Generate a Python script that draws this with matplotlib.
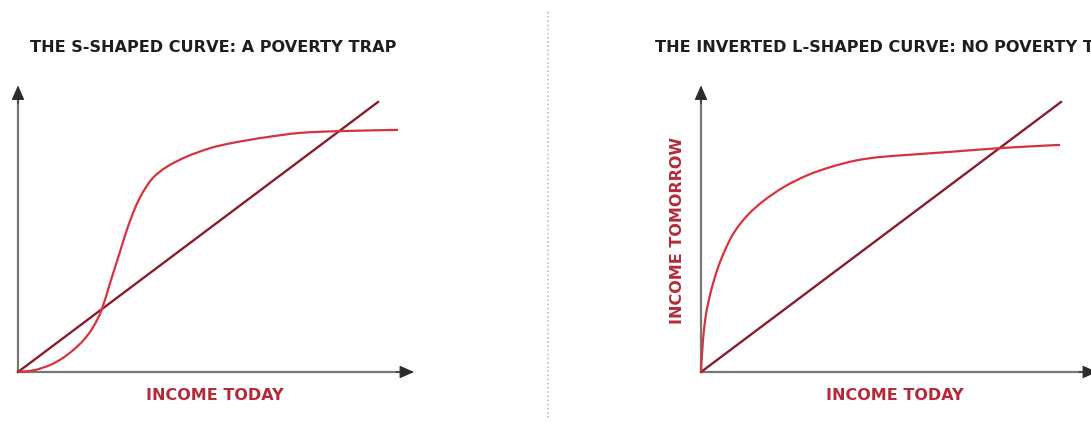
import matplotlib
matplotlib.use("Agg")
import matplotlib.pyplot as plt
import numpy as np
from matplotlib.lines import Line2D
from matplotlib.path import Path
from matplotlib.patches import PathPatch

# ---- data (income today -> income tomorrow) ----
s_x = [0, 0.4, 0.8, 1.1, 1.38, 1.65, 1.88, 2.09, 2.3, 2.51, 2.72, 2.925, 3.13, 3.38,
       3.72, 4.22, 4.8, 5.3, 5.8, 6.225, 7.05, 8.05, 9.5]
s_y = [0, 0.06, 0.23, 0.45, 0.73, 1.08, 1.5, 2.07, 2.96, 3.84, 4.73, 5.46, 6.01, 6.48,
       6.84, 7.18, 7.46, 7.62, 7.74, 7.83, 7.97, 8.03, 8.07]

l_x = [0, 0.05, 0.13, 0.26, 0.43, 0.63, 0.84, 1.18, 1.59, 2.09, 2.68, 3.26, 3.84, 4.43,
       5.3, 6.15, 7.55, 8.975]
l_y = [0, 1.07, 1.96, 2.75, 3.5, 4.15, 4.68, 5.25, 5.73, 6.18, 6.57, 6.84, 7.04, 7.16,
       7.25, 7.33, 7.47, 7.57]

diag_x = [0, 9.0]
diag_y = [0, 9.0]

x_axis_end = 9.9
y_axis_end = 9.55

titles = ["THE S-SHAPED CURVE: A POVERTY TRAP",
          "THE INVERTED L-SHAPED CURVE: NO POVERTY TRAP"]
xlabel = "INCOME TODAY"
ylabel = "INCOME TOMORROW"

# ---- style ----
CURVE = "#d8323f"
DIAG = "#8a1c2c"
AXIS = "#777777"
HEAD = "#2b2b2b"
LABEL = "#b52a3b"
TITLE = "#1e1e1e"
FONT = ["DejaVu Sans"]
TSIZE = 11.6
LSIZE = 11.5

fig = plt.figure(figsize=(10.91, 4.25), dpi=100)
fig.patch.set_facecolor("white")

W, H = 1091.0, 425.0
px_x, px_y = 40.0, 30.0  # pixels per data unit


def make_axes(x0_px, x1_px, origin_px):
    ax = fig.add_axes([x0_px / W, 0, (x1_px - x0_px) / W, 1])
    ox, oy = origin_px
    ax.set_xlim((x0_px - ox) / px_x, (x1_px - ox) / px_x)
    ax.set_ylim((oy - H) / px_y, oy / px_y)
    ax.axis("off")
    return ax


def smooth_path(xs, ys):
    """Cubic Bezier path passing through the given points (Catmull-Rom tangents)."""
    p = np.column_stack([xs, ys]).astype(float)
    verts = [p[0]]
    codes = [Path.MOVETO]
    n = len(p)
    for i in range(n - 1):
        p0 = p[i - 1] if i > 0 else p[i]
        p1 = p[i]
        p2 = p[i + 1]
        p3 = p[i + 2] if i + 2 < n else p[i + 1]
        c1 = p1 + (p2 - p0) / 6.0
        c2 = p2 - (p3 - p1) / 6.0
        verts += [c1, c2, p2]
        codes += [Path.CURVE4] * 3
    return Path(verts, codes)


def draw_curve(ax, xs, ys):
    ax.add_patch(PathPatch(smooth_path(xs, ys), facecolor="none", edgecolor=CURVE,
                           lw=1.6, zorder=2, joinstyle="round"))


def draw_axes_arrows(ax):
    ax.plot([0, x_axis_end - 0.25], [0, 0], color=AXIS, lw=1.6, solid_capstyle="butt", zorder=1)
    ax.plot([0, 0], [0, y_axis_end - 0.35], color=AXIS, lw=1.6, solid_capstyle="butt", zorder=1)
    ax.annotate("", xy=(x_axis_end, 0), xytext=(x_axis_end - 0.45, 0), annotation_clip=False,
                arrowprops=dict(arrowstyle="-|>,head_length=0.9,head_width=0.4",
                                color=HEAD, lw=0.8, shrinkA=0, shrinkB=0), zorder=3)
    ax.annotate("", xy=(0, y_axis_end), xytext=(0, y_axis_end - 0.6), annotation_clip=False,
                arrowprops=dict(arrowstyle="-|>,head_length=0.9,head_width=0.4",
                                color=HEAD, lw=0.8, shrinkA=0, shrinkB=0), zorder=3)


# left panel
axL = make_axes(0, 545.5, (18, 372))
draw_axes_arrows(axL)
axL.plot(diag_x, diag_y, color=DIAG, lw=1.7, zorder=2)
draw_curve(axL, s_x, s_y)
axL.text(0.3, 10.83, titles[0], ha="left", va="center", fontsize=TSIZE, fontweight="bold",
         color=TITLE, family=FONT)
axL.text(4.925, -0.77, xlabel, ha="center", va="center", fontsize=LSIZE, fontweight="bold",
         color=LABEL, family=FONT)

# right panel
axR = make_axes(545.5, 1091, (701, 372))
draw_axes_arrows(axR)
axR.plot(diag_x, diag_y, color=DIAG, lw=1.7, zorder=2)
draw_curve(axR, l_x, l_y)
axR.text(-1.15, 10.83, titles[1], ha="left", va="center", fontsize=TSIZE, fontweight="bold",
         color=TITLE, family=FONT, clip_on=False)
axR.text(4.85, -0.77, xlabel, ha="center", va="center", fontsize=LSIZE, fontweight="bold",
         color=LABEL, family=FONT)
axR.text(-0.6, 4.7, ylabel, ha="center", va="center", rotation=90, fontsize=LSIZE,
         fontweight="bold", color=LABEL, family=FONT)

# dotted divider
fig.add_artist(Line2D([548 / W, 548 / W], [1 - 12 / H, 1 - 420 / H], color="#d7b3bb",
                      lw=1.2, ls=(0, (1, 1.5))))

fig.savefig("out.png", dpi=100, facecolor="white")
